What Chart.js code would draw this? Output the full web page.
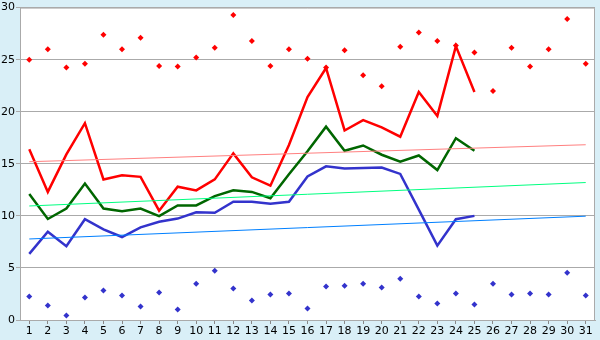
<!DOCTYPE html>
<html>
<head>
<meta charset="utf-8">
<script src="https://cdn.jsdelivr.net/npm/chart.js@4"></script>
<style>
html,body{margin:0;padding:0;background:#d9eff7;}
canvas{display:block;}
</style>
</head>
<body>
<canvas id="c" width="600" height="340"></canvas>
<script>
const days=["1","2","3","4","5","6","7","8","9","10","11","12","13","14","15","16","17","18","19","20","21","22","23","24","25","26","27","28","29","30","31"];

const maxLine=[16.4,12.3,15.9,18.9,13.5,13.9,13.75,10.5,12.8,12.45,13.5,16.0,13.7,12.9,16.8,21.4,24.2,18.2,19.2,18.5,17.6,21.9,19.6,26.3,21.9];
const avgLine=[12.1,9.7,10.7,13.1,10.7,10.45,10.7,9.97,11.0,11.0,11.9,12.45,12.3,11.7,14.0,16.2,18.57,16.25,16.76,15.87,15.2,15.8,14.4,17.46,16.25];
const minLine=[6.35,8.48,7.08,9.68,8.7,7.97,8.89,9.43,9.74,10.35,10.3,11.36,11.36,11.17,11.36,13.78,14.76,14.54,14.6,14.65,14.03,10.6,7.14,9.68,10.0];

const maxPoints=[25.0,26.0,24.25,24.6,27.4,26.0,27.1,24.4,24.35,25.2,26.15,29.3,26.8,24.4,26.0,25.1,24.25,25.9,23.5,22.45,26.25,27.6,26.8,26.35,25.7,22.0,26.15,24.35,26.0,28.9,24.6];
const minPoints=[2.25,1.4,0.44,2.16,2.83,2.35,1.3,2.63,1.02,3.49,4.73,3.02,1.87,2.44,2.54,1.11,3.21,3.3,3.49,3.11,3.97,2.25,1.59,2.54,1.49,3.49,2.44,2.54,2.44,4.54,2.35];

// trend lines: value on day 1 and on day 31
const maxTrend=[15.2,16.83];
const avgTrend=[10.95,13.2];
const minTrend=[7.78,9.97];

const yTicks=[0,5,10,15,20,25,30];

function ends(pair){
const a=days.map(()=>null);
a[0]=pair[0];
a[days.length-1]=pair[1];
return a;
}

const plotBg={
id:"plotBg",
beforeDraw(chart){
const a=chart.chartArea,ctx=chart.ctx;
ctx.save();
ctx.fillStyle="#ffffff";
ctx.fillRect(a.left,a.top,a.right-a.left,a.bottom-a.top);
ctx.restore();
},
afterDraw(chart){
const a=chart.chartArea,ctx=chart.ctx;
ctx.save();
ctx.strokeStyle="#aaaaaa";
ctx.lineWidth=1;
ctx.beginPath();
ctx.moveTo(a.left,a.top+0.5);
ctx.lineTo(a.right-0.5,a.top+0.5);
ctx.lineTo(a.right-0.5,a.bottom);
ctx.stroke();
ctx.restore();
}
};

const line=(data,color,w)=>({type:"line",data:data,borderColor:color,borderWidth:w,pointRadius:0,tension:0,fill:false,spanGaps:true});
const dots=(data,color)=>({type:"line",data:data,showLine:false,pointStyle:"rectRot",pointRadius:3,pointBackgroundColor:color,pointBorderColor:color,pointBorderWidth:0});

new Chart(document.getElementById("c"),{
type:"line",
data:{
labels:days,
datasets:[
line(ends(maxTrend),"#ff8080",1),
line(ends(avgTrend),"#00ff80",1),
line(ends(minTrend),"#0080ff",1),
line(maxLine,"#ff0000",2.5),
line(avgLine,"#006600",2.5),
line(minLine,"#3333cc",2.5),
dots(maxPoints,"#ff0000"),
dots(minPoints,"#3333cc")
]
},
options:{
responsive:false,
animation:false,
devicePixelRatio:1,
layout:{padding:{top:5,right:5,left:0,bottom:0}},
plugins:{legend:{display:false},tooltip:{enabled:false}},
scales:{
x:{
offset:true,
grid:{display:true,drawOnChartArea:false,offset:false,tickLength:4,color:"#888888"},
border:{color:"#aaaaaa"},
ticks:{color:"#000000",font:{family:"DejaVu Sans",size:11},padding:1,maxRotation:0,autoSkip:false},
afterFit(s){s.height=20;}
},
y:{
min:0,max:30,
afterBuildTicks(s){s.ticks=yTicks.map(v=>({value:v}));},
grid:{color:"#aaaaaa",tickLength:4,drawTicks:true},
border:{color:"#aaaaaa"},
ticks:{color:"#000000",font:{family:"DejaVu Sans",size:11},padding:1},
afterFit(s){s.width=20;}
}
}
},
plugins:[plotBg]
});
</script>
</body>
</html>
